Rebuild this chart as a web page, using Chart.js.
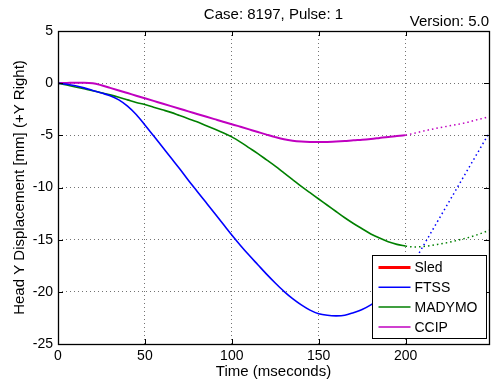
<!DOCTYPE html>
<html><head><meta charset="utf-8">
<script src="https://cdn.jsdelivr.net/npm/chart.js@4/dist/chart.umd.min.js"></script>
<style>html,body{margin:0;padding:0;background:#fff}#wrap{width:494px;height:386px}</style>
</head><body><div id="wrap"><canvas id="c" width="494" height="386"></canvas></div>
<script>
const timeSolid = [0,5,10,15,20,25,30,35,40,45,50,55,60,65,70,75,80,85,90,95,100,105,110,115,120,125,130,135,140,145,150,155,160,165,170,175,180,185,190,195,200];
const ftss = [0,-0.1,-0.25,-0.45,-0.7,-0.95,-1.2,-1.6,-2.2,-3.0,-4.0,-5.05,-6.1,-7.15,-8.2,-9.3,-10.35,-11.4,-12.45,-13.5,-14.55,-15.55,-16.5,-17.4,-18.3,-19.15,-19.95,-20.65,-21.25,-21.75,-22.1,-22.25,-22.3,-22.25,-22.0,-21.7,-21.25,-20.7,-20.0,-19.3,-18.5];
const madymo = [0,-0.18,-0.36,-0.54,-0.72,-0.92,-1.12,-1.35,-1.6,-1.85,-2.05,-2.3,-2.55,-2.8,-3.1,-3.4,-3.7,-4.05,-4.4,-4.75,-5.15,-5.65,-6.2,-6.75,-7.35,-7.95,-8.6,-9.25,-9.9,-10.5,-11.1,-11.7,-12.3,-12.9,-13.45,-13.95,-14.45,-14.85,-15.2,-15.45,-15.62];
const ccip = [0,0.02,0.05,0.05,0,-0.2,-0.45,-0.7,-0.95,-1.2,-1.45,-1.7,-1.95,-2.2,-2.45,-2.7,-2.95,-3.2,-3.45,-3.7,-3.93,-4.18,-4.43,-4.68,-4.93,-5.17,-5.38,-5.52,-5.6,-5.64,-5.65,-5.63,-5.6,-5.55,-5.48,-5.43,-5.35,-5.25,-5.15,-5.07,-4.98];
const timeFtssTail = [200,248];
const ftssTail = [-18.5,-4.8];
const timeTail = [200,205,210,215,220,225,230,235,240,245,248];
const madymoTail = [-15.62,-15.7,-15.65,-15.55,-15.4,-15.25,-15.05,-14.85,-14.6,-14.3,-14.1];
const ccipTail = [-4.98,-4.8,-4.6,-4.42,-4.25,-4.1,-3.95,-3.78,-3.55,-3.35,-3.2];
const xTicks = [0,50,100,150,200];
const yTicks = [5,0,-5,-10,-15,-20,-25];
const seriesNames = ['Sled','FTSS','MADYMO','CCIP'];
const seriesColors = ['#ff0000','#0000ff','#008000','#c000c0'];

const pts = (xs, ys) => xs.map((x,i)=>({x:x,y:ys[i]}));
const FONT = '"Liberation Sans", Arial, sans-serif';

const frame = {
  id:'frame',
  afterDatasetsDraw(chart){
    const ctx = chart.ctx, a = chart.chartArea, xs = chart.scales.x, ys = chart.scales.y;
    ctx.save();
    ctx.strokeStyle = '#000'; ctx.lineWidth = 1;
    ctx.beginPath();
    xTicks.forEach(v=>{const px=Math.round(xs.getPixelForValue(v))+0.5;
      ctx.moveTo(px,a.bottom);ctx.lineTo(px,a.bottom-5);ctx.moveTo(px,a.top);ctx.lineTo(px,a.top+5);});
    yTicks.forEach(v=>{const py=Math.round(ys.getPixelForValue(v))+0.5;
      ctx.moveTo(a.left,py);ctx.lineTo(a.left+5,py);ctx.moveTo(a.right,py);ctx.lineTo(a.right-5,py);});
    ctx.stroke();
    ctx.lineWidth = 1.3;
    ctx.strokeRect(Math.round(a.left)+0.5, Math.round(a.top)+0.5, Math.round(a.right-a.left), Math.round(a.bottom-a.top));
    // legend
    const lw=114, lh=83, lx=Math.round(a.right-3-lw)+0.5, ly=Math.round(a.bottom-6-lh)+0.5;
    ctx.fillStyle='#fff'; ctx.fillRect(lx,ly,lw,lh);
    ctx.lineWidth=1; ctx.strokeStyle='#000'; ctx.strokeRect(lx,ly,lw,lh);
    ctx.font='14px '+FONT; ctx.textBaseline='middle'; ctx.textAlign='left';
    seriesNames.forEach((n,i)=>{
      const yy = ly + 12 + i*19.8;
      ctx.strokeStyle=seriesColors[i]; ctx.lineWidth = i===0?3:1.5;
      ctx.beginPath(); ctx.moveTo(lx+6,yy); ctx.lineTo(lx+38,yy); ctx.stroke();
      ctx.fillStyle='#000'; ctx.fillText(n, lx+42, yy+1);
    });
    // titles
    ctx.fillStyle='#000';
    ctx.font='15px '+FONT; ctx.textAlign='center';
    ctx.fillText('Case: 8197, Pulse: 1', (a.left+a.right)/2, 15);
    ctx.textAlign='right';
    ctx.fillText('Version: 5.0', a.right, 22);
    ctx.textAlign='center';
    ctx.fillText('Time (mseconds)', (a.left+a.right)/2, 372);
    ctx.translate(20,(a.top+a.bottom)/2); ctx.rotate(-Math.PI/2);
    ctx.fillText('Head Y Displacement [mm] (+Y Right)',0,0);
    ctx.restore();
  }
};

const gridColor = (ctx)=> (ctx.tick && (ctx.tick.value===ctx.scale.min || ctx.tick.value===ctx.scale.max)) ? 'rgba(0,0,0,0)' : 'rgba(0,0,0,0.55)';

new Chart(document.getElementById('c'), {
  type:'line',
  data:{datasets:[
    {label:'Sled', data:[], borderColor:seriesColors[0], borderWidth:3},
    {label:'FTSS', data:pts(timeSolid,ftss), borderColor:seriesColors[1], borderWidth:1.6},
    {label:'MADYMO', data:pts(timeSolid,madymo), borderColor:seriesColors[2], borderWidth:1.6},
    {label:'CCIP', data:pts(timeSolid,ccip), borderColor:seriesColors[3], borderWidth:2},
    {label:'FTSS tail', data:pts(timeFtssTail,ftssTail), borderColor:seriesColors[1], borderWidth:1.5, borderDash:[1.5,3]},
    {label:'MADYMO tail', data:pts(timeTail,madymoTail), borderColor:seriesColors[2], borderWidth:1.5, borderDash:[1.5,3]},
    {label:'CCIP tail', data:pts(timeTail,ccipTail), borderColor:seriesColors[3], borderWidth:1.5, borderDash:[1.5,3]}
  ]},
  options:{
    responsive:false, animation:false, devicePixelRatio:1,
    layout:{padding:{left:0,top:31,right:5,bottom:0}},
    elements:{point:{radius:0}, line:{cubicInterpolationMode:'monotone', fill:false}},
    plugins:{legend:{display:false}, tooltip:{enabled:false}, title:{display:false}},
    scales:{
      x:{type:'linear', min:0, max:248,
        afterFit(s){s.height=42;},
        afterBuildTicks(s){s.ticks = xTicks.map(v=>({value:v}));},
        border:{display:false, dash:[1,3]},
        grid:{color:gridColor, lineWidth:1, drawTicks:false},
        ticks:{color:'#000', font:{family:FONT,size:14}, padding:4, maxRotation:0, autoSkip:false}},
      y:{type:'linear', min:-25, max:5,
        afterFit(s){s.width=58;},
        afterBuildTicks(s){s.ticks = yTicks.map(v=>({value:v}));},
        border:{display:false, dash:[1,3]},
        grid:{color:gridColor, lineWidth:1, drawTicks:false},
        ticks:{color:'#000', font:{family:FONT,size:14}, padding:5, autoSkip:false}}
    }
  },
  plugins:[frame]
});
</script>
</body></html>
